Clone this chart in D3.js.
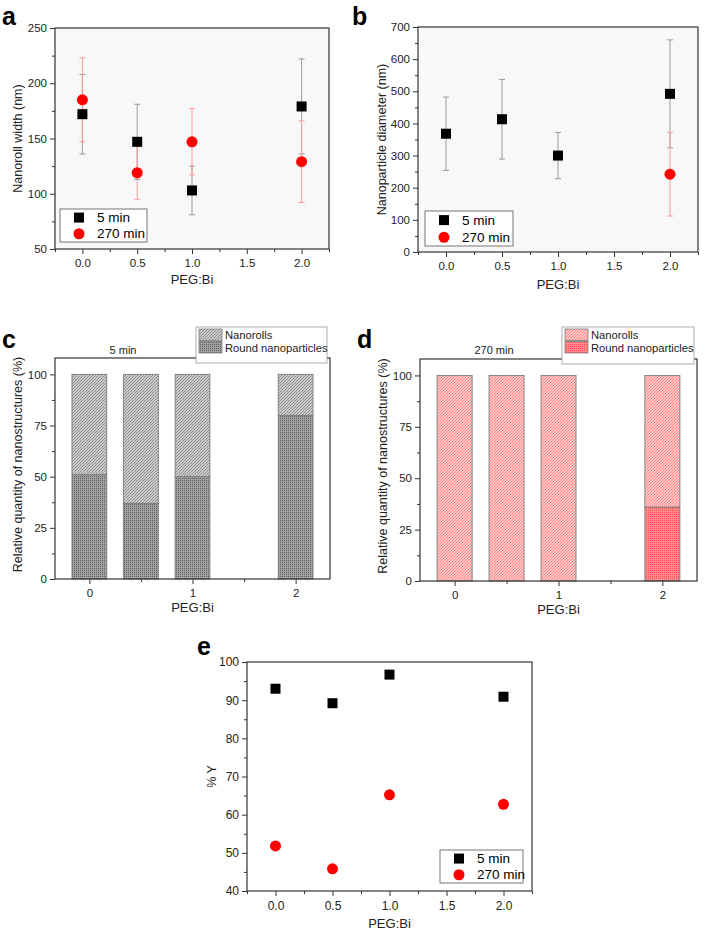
<!DOCTYPE html>
<html><head><meta charset="utf-8">
<script src="https://cdn.jsdelivr.net/npm/d3@7"></script>
<style>body{margin:0;background:#fff}svg{display:block;font-family:"Liberation Sans",Arial,sans-serif}</style>
</head><body><svg id="c" width="705" height="932"></svg>
<script>
// ---------- data ----------
const ratio = [0, 0.5, 1.0, 2.0];
const xTicks = ["0.0", "0.5", "1.0", "1.5", "2.0"];
const series = ["5 min", "270 min"];
// a: nanoroll width (nm)
const width5 = [172, 147, 103, 179];
const width5Err = [36, 34, 22, 43];
const width270 = [185, 119, 147, 129];
const width270Err = [38, 24, 30, 37];
// b: nanoparticle diameter (nm)
const diam5 = [368, 413, 300, 492];
const diam5Err = [114, 124, 72, 168];
const diam270 = [null, null, null, 242];
const diam270Err = [null, null, null, 130];
// c/d: relative quantity (%)
const barX = [0, 0.5, 1, 2];
const barTicks = [0, 1, 2];
const round5 = [51, 37, 50, 80];
const rolls5 = [49, 63, 50, 20];
const round270 = [0, 0, 0, 36];
const rolls270 = [100, 100, 100, 64];
const structures = ["Nanorolls", "Round nanoparticles"];
// e: % Y
const yield5 = [93.0, 89.2, 96.7, 90.9];
const yield270 = [51.8, 45.8, 65.2, 62.7];

// ---------- drawing ----------
const svg = d3.select("#c");
const defs = svg.append("defs");
function stripes(id, col) {
  const p = defs.append("pattern").attr("id", id).attr("patternUnits", "userSpaceOnUse").attr("width", 3).attr("height", 3);
  p.append("rect").attr("width", 3).attr("height", 3).attr("fill", "#fff");
  p.append("path").attr("d", "M-1,1 l2,-2 M0,3 l3,-3 M2,4 l2,-2").attr("stroke", col).attr("stroke-width", 1.25);
}
function grid(id, dark, light) {
  const p = defs.append("pattern").attr("id", id).attr("patternUnits", "userSpaceOnUse").attr("width", 2).attr("height", 2);
  p.append("rect").attr("width", 2).attr("height", 2).attr("fill", light);
  p.append("rect").attr("width", 1).attr("height", 1).attr("fill", dark);
}
stripes("hatchGray", "#8c8c8c");
grid("checkGray", "#5e5e5e", "#a0a0a0");
stripes("hatchRed", "#ff8282");
grid("checkRed", "#ff4a4a", "#ff8e8e");

const AX = "#333", TXT = "#222";

function frame(g, x, y) {
  const [x0, x1] = x.range(), [y0, y1] = y.range();
  g.append("rect").attr("x", x0).attr("y", y1).attr("width", x1 - x0).attr("height", y0 - y1)
    .attr("fill", "none").attr("stroke", AX).attr("stroke-width", 1.2);
}
function yAxis(g, y, x0, majors, minors) {
  g.append("g").attr("transform", `translate(${x0},0)`)
    .call(d3.axisLeft(y).tickValues(majors).tickSize(5).tickPadding(3).tickFormat(d3.format("d")));
  g.append("g").attr("transform", `translate(${x0},0)`).call(d3.axisLeft(y).tickValues(minors).tickSize(3).tickFormat(""));
}
function xAxis(g, x, y0, majors, minors, fmt) {
  g.append("g").attr("transform", `translate(0,${y0})`)
    .call(d3.axisBottom(x).tickValues(majors).tickSize(5).tickPadding(5).tickFormat(fmt));
  g.append("g").attr("transform", `translate(0,${y0})`).call(d3.axisBottom(x).tickValues(minors).tickSize(3).tickFormat(""));
}
function styleAxes(g, fs) {
  g.selectAll(".domain").remove();
  g.selectAll(".tick line").attr("stroke", AX);
  g.selectAll(".tick text").attr("fill", TXT).attr("font-size", fs).attr("font-family", "Liberation Sans, Arial, sans-serif");
}
function ylabel(g, text, cx, cy, fs) {
  g.append("text").attr("transform", `translate(${cx},${cy}) rotate(-90)`).attr("text-anchor", "middle")
    .attr("dominant-baseline", "central").attr("font-size", fs).attr("fill", TXT).text(text);
}
function xlabel(g, text, cx, by) {
  g.append("text").attr("x", cx).attr("y", by).attr("text-anchor", "middle").attr("font-size", 13).attr("fill", TXT).text(text);
}
function panelLetter(t, x, y) {
  svg.append("text").attr("x", x).attr("y", y).attr("font-size", 25).attr("font-weight", "bold").attr("fill", "#000").text(t);
}
function square(g, cx, cy) {
  g.append("rect").attr("x", cx - 5).attr("y", cy - 5).attr("width", 10).attr("height", 10).attr("fill", "#000");
}
function circle(g, cx, cy) {
  g.append("circle").attr("cx", cx).attr("cy", cy).attr("r", 5.5).attr("fill", "#ff0000");
}
function errbars(g, x, y, xs, vals, errs, col) {
  xs.forEach((xv, i) => {
    if (vals[i] == null) return;
    const cx = x(xv), t = y(vals[i] + errs[i]), b = y(vals[i] - errs[i]);
    g.append("line").attr("x1", cx).attr("x2", cx).attr("y1", t).attr("y2", b).attr("stroke", col).attr("stroke-width", 1);
    [t, b].forEach(yy => g.append("line").attr("x1", cx - 3).attr("x2", cx + 3).attr("y1", yy).attr("y2", yy).attr("stroke", col).attr("stroke-width", 1));
  });
}
function legendScatter(g, bx, by, bw, bh) {
  g.append("rect").attr("x", bx).attr("y", by).attr("width", bw).attr("height", bh).attr("fill", "#fff").attr("stroke", "#555").attr("stroke-width", 0.8);
  const r1 = by + bh * 0.26, r2 = by + bh * 0.75;
  square(g, bx + 19, r1);
  circle(g, bx + 19, r2);
  series.forEach((s, i) => g.append("text").attr("x", bx + 37).attr("y", i ? r2 : r1).attr("dominant-baseline", "central")
    .attr("font-size", 13.5).attr("fill", "#000").text(s));
}

function scatterPanel(o) {
  const g = svg.append("g");
  const x = d3.scaleLinear().domain([-0.25, 2.25]).range([o.x0, o.x1]);
  const y = d3.scaleLinear().domain(o.yd).range([o.y0, o.y1]);
  if (o.bg) g.append("rect").attr("x", o.x0).attr("y", o.y1).attr("width", o.x1 - o.x0).attr("height", o.y0 - o.y1).attr("fill", o.bg);
  const ax = g.append("g");
  yAxis(ax, y, o.x0, d3.range(o.yd[0], o.yd[1] + 1e-9, o.ys), d3.range(o.yd[0] + o.ys / 2, o.yd[1], o.ys));
  xAxis(ax, x, o.y0, [0, 0.5, 1, 1.5, 2], [-0.25, 0.25, 0.75, 1.25, 1.75, 2.25], (d, i) => xTicks[i]);
  styleAxes(ax, o.tfs);
  if (o.e5) errbars(g, x, y, ratio, o.s5, o.e5, "#9a9a9a");
  if (o.e270) errbars(g, x, y, ratio, o.s270, o.e270, "#ff9a9a");
  ratio.forEach((xv, i) => { if (o.s5[i] != null) square(g, x(xv), y(o.s5[i])); });
  ratio.forEach((xv, i) => { if (o.s270[i] != null) circle(g, x(xv), y(o.s270[i])); });
  frame(g, x, y);
  legendScatter(g, ...o.leg);
  ylabel(g, o.ylab, o.ylx, (o.y0 + o.y1) / 2, 12.5);
  xlabel(g, "PEG:Bi", (o.x0 + o.x1) / 2, o.xlb);
}

function barPanel(o) {
  const g = svg.append("g");
  const x = d3.scaleLinear().domain([-1 / 3, 7 / 3]).range([o.x0, o.x1]);
  const y = d3.scaleLinear().domain([0, 108]).range([o.y0, o.y1]);
  const ax = g.append("g");
  yAxis(ax, y, o.x0, [0, 25, 50, 75, 100], [12.5, 37.5, 62.5, 87.5]);
  xAxis(ax, x, o.y0, barTicks, [0.5, 1.5], d => d3.format("d")(d));
  styleAxes(ax, 11.5);
  const bw = x(0.337) - x(0);
  const stack = d3.stack().keys(["round", "rolls"])(barX.map((b, i) => ({ round: o.round[i], rolls: o.rolls[i] })));
  const fills = { round: o.pRound, rolls: o.pRolls };
  stack.forEach(layer => {
    layer.forEach((d, i) => {
      if (d[1] - d[0] <= 0) return;
      g.append("rect").attr("x", x(barX[i]) - bw / 2).attr("y", y(d[1])).attr("width", bw).attr("height", y(d[0]) - y(d[1]))
        .attr("fill", `url(#${fills[layer.key]})`).attr("stroke", "#7a7a7a").attr("stroke-width", 0.9);
    });
  });
  frame(g, x, y);
  ylabel(g, "Relative quantity of nanostructures (%)", o.ylx, (o.y0 + o.y1) / 2 - 4, 12.5);
  xlabel(g, "PEG:Bi", (o.x0 + o.x1) / 2, o.xlb);
  g.append("text").attr("x", o.tx).attr("y", o.ty).attr("text-anchor", "middle").attr("font-size", 11).attr("fill", TXT).text(o.title);
  const [lx, ly, lw, lh] = o.leg;
  g.append("rect").attr("x", lx).attr("y", ly).attr("width", lw).attr("height", lh).attr("fill", "#fff").attr("stroke", "#999").attr("stroke-width", 0.8);
  [o.pRolls, o.pRound].forEach((p, i) => {
    g.append("rect").attr("x", lx + 3).attr("y", ly + 2 + i * 12.5).attr("width", 23).attr("height", 11.5)
      .attr("fill", `url(#${p})`).attr("stroke", "#7a7a7a").attr("stroke-width", 0.8);
    g.append("text").attr("x", lx + 29).attr("y", ly + 8 + i * 12.5).attr("dominant-baseline", "central").attr("font-size", 11.2)
      .attr("fill", TXT).text(structures[i]);
  });
}

scatterPanel({ x0: 55, x1: 329, y0: 249, y1: 28, yd: [50, 250], ys: 50, s5: width5, e5: width5Err, s270: width270, e270: width270Err,
  leg: [60, 209, 87, 33], ylab: "Nanoroll width (nm)", ylx: 18, xlb: 284, bg: "#f8f8f8", tfs: 11.5 });
scatterPanel({ x0: 418, x1: 698, y0: 252, y1: 27, yd: [0, 700], ys: 100, s5: diam5, e5: diam5Err, s270: diam270, e270: diam270Err,
  leg: [425, 211, 88, 35], ylab: "Nanoparticle diameter (nm)", ylx: 382, xlb: 289, bg: "#f8f8f8", tfs: 11.5 });
barPanel({ x0: 55, x1: 330, y0: 579, y1: 358, round: round5, rolls: rolls5, pRolls: "hatchGray", pRound: "checkGray",
  title: "5 min", tx: 123, ty: 354, leg: [196, 327, 131, 36], ylx: 18, xlb: 612 });
barPanel({ x0: 420, x1: 697, y0: 581, y1: 359, round: round270, rolls: rolls270, pRolls: "hatchRed", pRound: "checkRed",
  title: "270 min", tx: 494, ty: 354, leg: [562, 327, 132, 37], ylx: 383, xlb: 614 });
scatterPanel({ x0: 247, x1: 532, y0: 891, y1: 662, yd: [40, 100], ys: 10, s5: yield5, s270: yield270,
  leg: [440, 850, 83, 33], ylab: "% Y", ylx: 212, xlb: 928, tfs: 12 });

panelLetter("a", 2, 25);
panelLetter("b", 352, 25);
panelLetter("c", 2, 348);
panelLetter("d", 357, 348);
panelLetter("e", 197, 655);
</script></body></html>
